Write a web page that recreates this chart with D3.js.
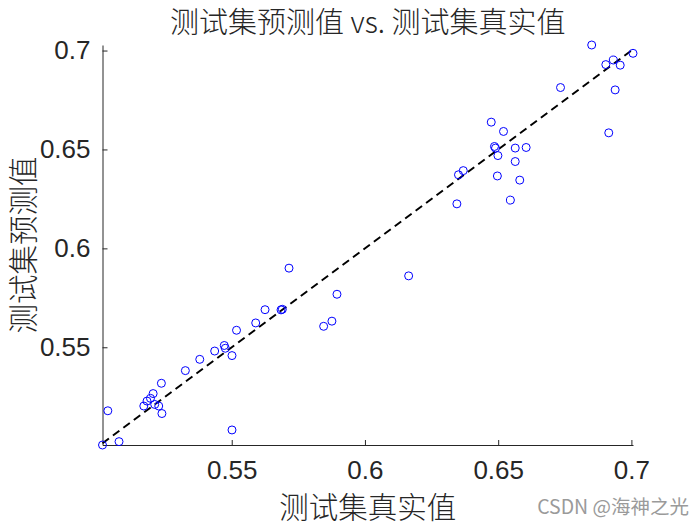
<!DOCTYPE html>
<html><head><meta charset="utf-8">
<script src="https://cdn.jsdelivr.net/npm/d3@7"></script>
<style>body{margin:0;background:#fff}</style>
</head><body>
<svg id="c" width="700" height="525"></svg>
<script>
const trueVals = [0.5015,0.5077,0.5035,0.5501,0.5170,0.5182,0.5195,0.5205,0.5211,0.5226,0.5238,0.5236,0.5326,0.5380,0.5436,0.5472,0.5476,0.5501,0.5518,0.5590,0.5625,0.5690,0.5685,0.5715,0.5845,0.5876,0.5895,0.6164,0.6345,0.6351,0.6369,0.6474,0.6486,0.6490,0.6499,0.6497,0.6520,0.6546,0.6564,0.6564,0.6581,0.6605,0.6734,0.6851,0.6904,0.6915,0.6932,0.6939,0.6958,0.7006];
const predVals = [0.5006,0.5023,0.5179,0.5082,0.5203,0.5228,0.5242,0.5266,0.5211,0.5203,0.5165,0.5318,0.5382,0.5439,0.5481,0.5509,0.5495,0.5458,0.5586,0.5623,0.5690,0.5692,0.5689,0.5900,0.5606,0.5632,0.5768,0.5861,0.6225,0.6372,0.6393,0.6638,0.6515,0.6507,0.6469,0.6366,0.6591,0.6244,0.6507,0.6439,0.6345,0.6510,0.6813,0.7028,0.6929,0.6584,0.6952,0.6801,0.6926,0.6986];
const xTicks = [0.55,0.6,0.65,0.7];
const yTicks = [0.55,0.6,0.65,0.7];
const titleText = "测试集预测值 vs. 测试集真实值";
const xLabel = "测试集真实值";
const yLabel = "测试集预测值";
const watermark = "CSDN @海神之光";

const svg = d3.select("#c");
const L=102.5, R=633, T=45, B=445;
const x = d3.scaleLinear().domain(d3.extent(trueVals)).range([L,R]);
const y = d3.scaleLinear().domain(d3.extent(predVals)).range([B,T]);
const cjk = "'Noto Sans CJK SC', sans-serif";
const num = "'Liberation Sans', Arial, sans-serif";

const xa = svg.append("g").attr("transform",`translate(0,${B})`)
  .call(d3.axisBottom(x).tickValues(xTicks).tickSizeInner(-5).tickSizeOuter(0).tickPadding(16).tickFormat(d3.format("")));
const ya = svg.append("g").attr("transform",`translate(${L},0)`)
  .call(d3.axisLeft(y).tickValues(yTicks).tickSizeInner(-5).tickSizeOuter(0).tickPadding(12).tickFormat(d3.format("")));
[xa,ya].forEach(a=>{
  a.selectAll("path,line").attr("stroke","#262626").attr("stroke-width",1);
  a.selectAll("text").attr("fill","#262626").attr("font-family",num).attr("font-size",26);
});

const ext = d3.extent(trueVals);
svg.append("line").attr("x1",x(ext[0])).attr("y1",y(ext[0])).attr("x2",x(ext[1])).attr("y2",y(ext[1]))
  .attr("stroke","#000").attr("stroke-width",2).attr("stroke-dasharray","8,5");

svg.append("g").selectAll("circle").data(trueVals).join("circle")
  .attr("cx",(d)=>x(d)).attr("cy",(d,i)=>y(predVals[i])).attr("r",4)
  .attr("fill","none").attr("stroke","#0000ff").attr("stroke-width",1);

svg.append("text").attr("x",(L+R)/2).attr("y",33).attr("text-anchor","middle")
  .attr("font-family",cjk).attr("font-weight",300).attr("font-size",29).attr("fill","#262626").text(titleText);
svg.append("text").attr("x",(L+R)/2).attr("y",518).attr("text-anchor","middle")
  .attr("font-family",cjk).attr("font-weight",300).attr("font-size",29.5).attr("fill","#262626").text(xLabel);
svg.append("text").attr("transform",`translate(34,${(T+B)/2}) rotate(-90)`).attr("text-anchor","middle")
  .attr("font-family",cjk).attr("font-weight",300).attr("font-size",29.5).attr("fill","#262626").text(yLabel);
svg.append("text").attr("x",689).attr("y",514).attr("text-anchor","end")
  .attr("font-family",cjk).attr("font-size",19.5).attr("fill","#9a9a9a").text(watermark);
</script>
</body></html>
